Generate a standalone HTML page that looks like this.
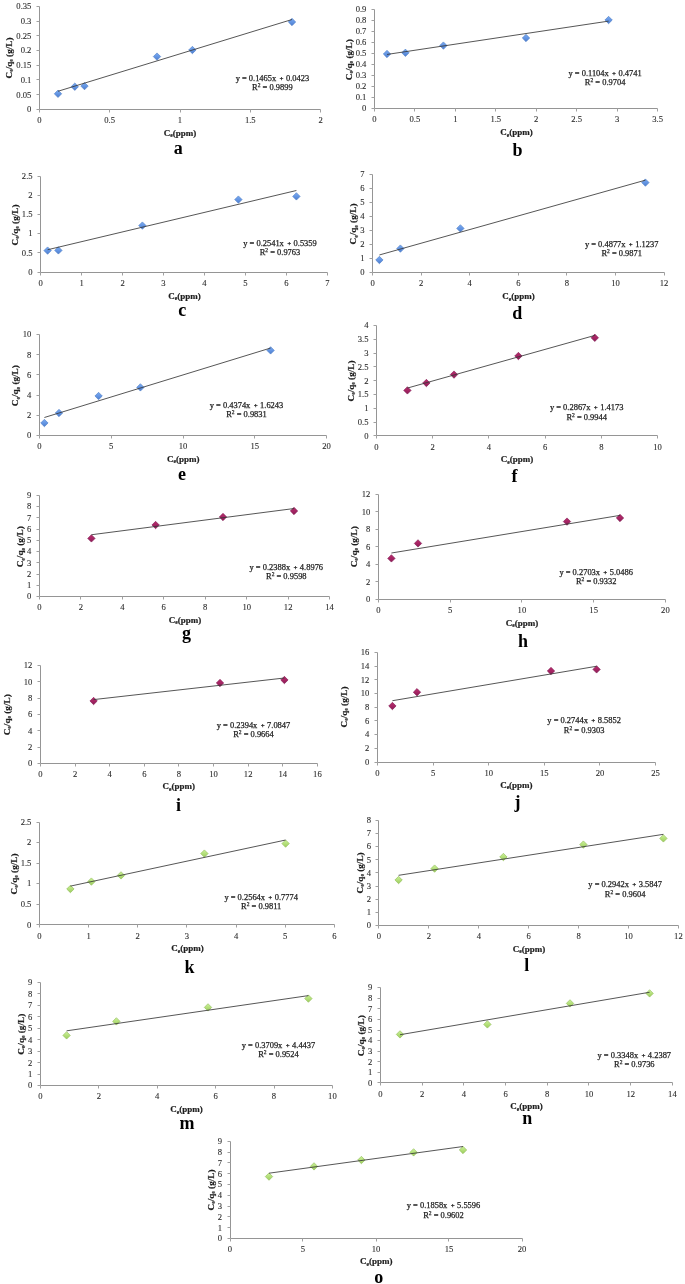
<!DOCTYPE html>
<html><head><meta charset="utf-8"><title>Figure</title>
<style>html,body{margin:0;padding:0;background:#fff;width:685px;height:1284px;overflow:hidden}svg{display:block;filter:blur(0.5px)}</style>
</head><body>
<svg width="685" height="1284" viewBox="0 0 685 1284">
<defs>
<linearGradient id="gb" x1="0" y1="0" x2="0" y2="1"><stop offset="0" stop-color="#7aaaf0"/><stop offset="0.5" stop-color="#6496e4"/><stop offset="1" stop-color="#4c7ccc"/></linearGradient>
<linearGradient id="gm" x1="0" y1="0" x2="0" y2="1"><stop offset="0" stop-color="#b82c6a"/><stop offset="0.5" stop-color="#a62464"/><stop offset="1" stop-color="#8c1c54"/></linearGradient>
<linearGradient id="gg" x1="0" y1="0" x2="0" y2="1"><stop offset="0" stop-color="#cdf29a"/><stop offset="0.5" stop-color="#b4e07a"/><stop offset="1" stop-color="#9ccc5e"/></linearGradient>
</defs>
<style>
.ax{stroke:#959595;stroke-width:1;fill:none}
.tkl{stroke:#a0a0a0;stroke-width:1;fill:none}
.tr{stroke:#383838;stroke-width:0.85;fill:none}
.tk{font-family:"Liberation Serif",serif;font-size:8.6px;fill:#2c2c2c;stroke:#2c2c2c;stroke-width:0.1px}
.eq{font-family:"Liberation Serif",serif;font-size:8.45px;fill:#1e1e1e;stroke:#1e1e1e;stroke-width:0.25px}
.ti{font-family:"Liberation Serif",serif;font-size:9.0px;font-weight:bold;fill:#1e1e1e;stroke:#1e1e1e;stroke-width:0.2px}
.lt{font-family:"Liberation Serif",serif;font-size:18px;font-weight:bold;fill:#000}
</style>
<rect width="685" height="1284" fill="#fff"/>
<g id="ca"><path d="M39.5 6.5V109.5H320.5" class="ax"/><path d="M36.5 109.5H39.5M36.5 94.5H39.5M36.5 79.5H39.5M36.5 65.5H39.5M36.5 50.5H39.5M36.5 35.5H39.5M36.5 21.5H39.5M36.5 6.5H39.5M39.5 109.5V112.5M109.5 109.5V112.5M180.5 109.5V112.5M250.5 109.5V112.5M320.5 109.5V112.5" class="tkl"/><text x="31.4" y="112.24" class="tk" text-anchor="end">0</text><text x="31.4" y="97.52" class="tk" text-anchor="end">0.05</text><text x="31.4" y="82.81" class="tk" text-anchor="end">0.1</text><text x="31.4" y="68.1" class="tk" text-anchor="end">0.15</text><text x="31.4" y="53.38" class="tk" text-anchor="end">0.2</text><text x="31.4" y="38.67" class="tk" text-anchor="end">0.25</text><text x="31.4" y="23.95" class="tk" text-anchor="end">0.3</text><text x="31.4" y="9.24" class="tk" text-anchor="end">0.35</text><text x="39.4" y="123.24" class="tk" text-anchor="middle">0</text><text x="109.7" y="123.24" class="tk" text-anchor="middle">0.5</text><text x="180" y="123.24" class="tk" text-anchor="middle">1</text><text x="250.3" y="123.24" class="tk" text-anchor="middle">1.5</text><text x="320.6" y="123.24" class="tk" text-anchor="middle">2</text><path d="M58 90.1L61.7 93.8L58 97.5L54.3 93.8Z" fill="url(#gb)" stroke="#4a7ac4" stroke-width="0.6"/><path d="M74.8 83L78.5 86.7L74.8 90.4L71.1 86.7Z" fill="url(#gb)" stroke="#4a7ac4" stroke-width="0.6"/><path d="M84.5 82.4L88.2 86.1L84.5 89.8L80.8 86.1Z" fill="url(#gb)" stroke="#4a7ac4" stroke-width="0.6"/><path d="M157 52.9L160.7 56.6L157 60.3L153.3 56.6Z" fill="url(#gb)" stroke="#4a7ac4" stroke-width="0.6"/><path d="M192.4 46.3L196.1 50L192.4 53.7L188.7 50Z" fill="url(#gb)" stroke="#4a7ac4" stroke-width="0.6"/><path d="M292 18.3L295.7 22L292 25.7L288.3 22Z" fill="url(#gb)" stroke="#4a7ac4" stroke-width="0.6"/><path d="M58 91.25L292 19.5" class="tr"/><text x="272.4" y="80.79" class="eq" text-anchor="middle" xml:space="preserve">y = 0.1465x <tspan font-size="7" font-weight="bold" dx="1.2">+</tspan><tspan dx="0.3"> 0.0423</tspan></text><text x="272.4" y="89.79" class="eq" text-anchor="middle">R<tspan dy="-3" font-size="5.5">2</tspan><tspan dy="3"> = 0.9899</tspan></text><text transform="translate(11.7 58) rotate(-90)" class="ti" text-anchor="middle" textLength="41" lengthAdjust="spacingAndGlyphs">C<tspan font-size="5.5" dy="1.5">e</tspan><tspan dy="-1.5">/q</tspan><tspan font-size="5.5" dy="1.5">e</tspan><tspan dy="-1.5"> (g/L)</tspan></text><text x="180" y="135.85" class="ti" text-anchor="middle">C<tspan font-size="5.5" dy="1.5">e</tspan><tspan dy="-1.5">(ppm)</tspan></text><text x="178.2" y="154" class="lt" text-anchor="middle">a</text></g>
<g id="cb"><path d="M374.5 9.5V108.5H657.5" class="ax"/><path d="M371.5 108.5H374.5M371.5 97.5H374.5M371.5 86.5H374.5M371.5 75.5H374.5M371.5 64.5H374.5M371.5 53.5H374.5M371.5 42.5H374.5M371.5 31.5H374.5M371.5 20.5H374.5M371.5 9.5H374.5M374.5 108.5V111.5M414.5 108.5V111.5M455.5 108.5V111.5M495.5 108.5V111.5M536.5 108.5V111.5M576.5 108.5V111.5M617.5 108.5V111.5M657.5 108.5V111.5" class="tkl"/><text x="366.4" y="111.44" class="tk" text-anchor="end">0</text><text x="366.4" y="100.42" class="tk" text-anchor="end">0.1</text><text x="366.4" y="89.39" class="tk" text-anchor="end">0.2</text><text x="366.4" y="78.37" class="tk" text-anchor="end">0.3</text><text x="366.4" y="67.35" class="tk" text-anchor="end">0.4</text><text x="366.4" y="56.33" class="tk" text-anchor="end">0.5</text><text x="366.4" y="45.3" class="tk" text-anchor="end">0.6</text><text x="366.4" y="34.28" class="tk" text-anchor="end">0.7</text><text x="366.4" y="23.26" class="tk" text-anchor="end">0.8</text><text x="366.4" y="12.24" class="tk" text-anchor="end">0.9</text><text x="374.4" y="122.44" class="tk" text-anchor="middle">0</text><text x="414.86" y="122.44" class="tk" text-anchor="middle">0.5</text><text x="455.31" y="122.44" class="tk" text-anchor="middle">1</text><text x="495.77" y="122.44" class="tk" text-anchor="middle">1.5</text><text x="536.23" y="122.44" class="tk" text-anchor="middle">2</text><text x="576.69" y="122.44" class="tk" text-anchor="middle">2.5</text><text x="617.14" y="122.44" class="tk" text-anchor="middle">3</text><text x="657.6" y="122.44" class="tk" text-anchor="middle">3.5</text><path d="M387 50.3L390.7 54L387 57.7L383.3 54Z" fill="url(#gb)" stroke="#4a7ac4" stroke-width="0.6"/><path d="M405.4 49.1L409.1 52.8L405.4 56.5L401.7 52.8Z" fill="url(#gb)" stroke="#4a7ac4" stroke-width="0.6"/><path d="M443.4 41.9L447.1 45.6L443.4 49.3L439.7 45.6Z" fill="url(#gb)" stroke="#4a7ac4" stroke-width="0.6"/><path d="M526 34.3L529.7 38L526 41.7L522.3 38Z" fill="url(#gb)" stroke="#4a7ac4" stroke-width="0.6"/><path d="M608.6 16.3L612.3 20L608.6 23.7L604.9 20Z" fill="url(#gb)" stroke="#4a7ac4" stroke-width="0.6"/><path d="M387 54.45L608.6 21.12" class="tr"/><text x="605.1" y="75.99" class="eq" text-anchor="middle" xml:space="preserve">y = 0.1104x <tspan font-size="7" font-weight="bold" dx="1.2">+</tspan><tspan dx="0.3"> 0.4741</tspan></text><text x="605.1" y="84.79" class="eq" text-anchor="middle">R<tspan dy="-3" font-size="5.5">2</tspan><tspan dy="3"> = 0.9704</tspan></text><text transform="translate(351.7 59.7) rotate(-90)" class="ti" text-anchor="middle" textLength="41" lengthAdjust="spacingAndGlyphs">C<tspan font-size="5.5" dy="1.5">e</tspan><tspan dy="-1.5">/q</tspan><tspan font-size="5.5" dy="1.5">e</tspan><tspan dy="-1.5"> (g/L)</tspan></text><text x="516.6" y="135.25" class="ti" text-anchor="middle">C<tspan font-size="5.5" dy="1.5">e</tspan><tspan dy="-1.5">(ppm)</tspan></text><text x="517.4" y="156" class="lt" text-anchor="middle">b</text></g>
<g id="cc"><path d="M40.5 176.5V272.5H327.5" class="ax"/><path d="M37.5 272.5H40.5M37.5 252.5H40.5M37.5 233.5H40.5M37.5 214.5H40.5M37.5 195.5H40.5M37.5 176.5H40.5M40.5 272.5V275.5M81.5 272.5V275.5M122.5 272.5V275.5M163.5 272.5V275.5M204.5 272.5V275.5M245.5 272.5V275.5M286.5 272.5V275.5M327.5 272.5V275.5" class="tkl"/><text x="32.6" y="274.84" class="tk" text-anchor="end">0</text><text x="32.6" y="255.64" class="tk" text-anchor="end">0.5</text><text x="32.6" y="236.44" class="tk" text-anchor="end">1</text><text x="32.6" y="217.24" class="tk" text-anchor="end">1.5</text><text x="32.6" y="198.04" class="tk" text-anchor="end">2</text><text x="32.6" y="178.84" class="tk" text-anchor="end">2.5</text><text x="40.6" y="285.84" class="tk" text-anchor="middle">0</text><text x="81.57" y="285.84" class="tk" text-anchor="middle">1</text><text x="122.54" y="285.84" class="tk" text-anchor="middle">2</text><text x="163.51" y="285.84" class="tk" text-anchor="middle">3</text><text x="204.49" y="285.84" class="tk" text-anchor="middle">4</text><text x="245.46" y="285.84" class="tk" text-anchor="middle">5</text><text x="286.43" y="285.84" class="tk" text-anchor="middle">6</text><text x="327.4" y="285.84" class="tk" text-anchor="middle">7</text><path d="M47.6 246.9L51.3 250.6L47.6 254.3L43.9 250.6Z" fill="url(#gb)" stroke="#4a7ac4" stroke-width="0.6"/><path d="M58.4 246.7L62.1 250.4L58.4 254.1L54.7 250.4Z" fill="url(#gb)" stroke="#4a7ac4" stroke-width="0.6"/><path d="M142.4 221.9L146.1 225.6L142.4 229.3L138.7 225.6Z" fill="url(#gb)" stroke="#4a7ac4" stroke-width="0.6"/><path d="M238.4 195.9L242.1 199.6L238.4 203.3L234.7 199.6Z" fill="url(#gb)" stroke="#4a7ac4" stroke-width="0.6"/><path d="M296.4 192.7L300.1 196.4L296.4 200.1L292.7 196.4Z" fill="url(#gb)" stroke="#4a7ac4" stroke-width="0.6"/><path d="M47.6 249.75L296.4 190.5" class="tr"/><text x="280" y="245.79" class="eq" text-anchor="middle" xml:space="preserve">y = 0.2541x <tspan font-size="7" font-weight="bold" dx="1.2">+</tspan><tspan dx="0.3"> 0.5359</tspan></text><text x="280" y="255.19" class="eq" text-anchor="middle">R<tspan dy="-3" font-size="5.5">2</tspan><tspan dy="3"> = 0.9763</tspan></text><text transform="translate(17.7 225) rotate(-90)" class="ti" text-anchor="middle" textLength="41" lengthAdjust="spacingAndGlyphs">C<tspan font-size="5.5" dy="1.5">e</tspan><tspan dy="-1.5">/q</tspan><tspan font-size="5.5" dy="1.5">e</tspan><tspan dy="-1.5"> (g/L)</tspan></text><text x="184.5" y="298.55" class="ti" text-anchor="middle">C<tspan font-size="5.5" dy="1.5">e</tspan><tspan dy="-1.5">(ppm)</tspan></text><text x="182.3" y="316.4" class="lt" text-anchor="middle">c</text></g>
<g id="cd"><path d="M372.5 174.5V272.5H664.5" class="ax"/><path d="M369.5 272.5H372.5M369.5 258.5H372.5M369.5 244.5H372.5M369.5 230.5H372.5M369.5 216.5H372.5M369.5 202.5H372.5M369.5 188.5H372.5M369.5 174.5H372.5M372.5 272.5V275.5M421.5 272.5V275.5M469.5 272.5V275.5M518.5 272.5V275.5M566.5 272.5V275.5M615.5 272.5V275.5M664.5 272.5V275.5" class="tkl"/><text x="364.6" y="275.44" class="tk" text-anchor="end">0</text><text x="364.6" y="261.44" class="tk" text-anchor="end">1</text><text x="364.6" y="247.44" class="tk" text-anchor="end">2</text><text x="364.6" y="233.44" class="tk" text-anchor="end">3</text><text x="364.6" y="219.44" class="tk" text-anchor="end">4</text><text x="364.6" y="205.44" class="tk" text-anchor="end">5</text><text x="364.6" y="191.44" class="tk" text-anchor="end">6</text><text x="364.6" y="177.44" class="tk" text-anchor="end">7</text><text x="372.6" y="286.44" class="tk" text-anchor="middle">0</text><text x="421.17" y="286.44" class="tk" text-anchor="middle">2</text><text x="469.73" y="286.44" class="tk" text-anchor="middle">4</text><text x="518.3" y="286.44" class="tk" text-anchor="middle">6</text><text x="566.87" y="286.44" class="tk" text-anchor="middle">8</text><text x="615.43" y="286.44" class="tk" text-anchor="middle">10</text><text x="664" y="286.44" class="tk" text-anchor="middle">12</text><path d="M379.4 256.3L383.1 260L379.4 263.7L375.7 260Z" fill="url(#gb)" stroke="#4a7ac4" stroke-width="0.6"/><path d="M400.4 244.9L404.1 248.6L400.4 252.3L396.7 248.6Z" fill="url(#gb)" stroke="#4a7ac4" stroke-width="0.6"/><path d="M460.4 224.7L464.1 228.4L460.4 232.1L456.7 228.4Z" fill="url(#gb)" stroke="#4a7ac4" stroke-width="0.6"/><path d="M645.4 178.9L649.1 182.6L645.4 186.3L641.7 182.6Z" fill="url(#gb)" stroke="#4a7ac4" stroke-width="0.6"/><path d="M379.4 254.96L645.4 180.16" class="tr"/><text x="621.7" y="246.79" class="eq" text-anchor="middle" xml:space="preserve">y = 0.4877x <tspan font-size="7" font-weight="bold" dx="1.2">+</tspan><tspan dx="0.3"> 1.1237</tspan></text><text x="621.7" y="255.79" class="eq" text-anchor="middle">R<tspan dy="-3" font-size="5.5">2</tspan><tspan dy="3"> = 0.9871</tspan></text><text transform="translate(356.4 224) rotate(-90)" class="ti" text-anchor="middle" textLength="41" lengthAdjust="spacingAndGlyphs">C<tspan font-size="5.5" dy="1.5">e</tspan><tspan dy="-1.5">/q</tspan><tspan font-size="5.5" dy="1.5">e</tspan><tspan dy="-1.5"> (g/L)</tspan></text><text x="518.5" y="299.25" class="ti" text-anchor="middle">C<tspan font-size="5.5" dy="1.5">e</tspan><tspan dy="-1.5">(ppm)</tspan></text><text x="517.2" y="318.9" class="lt" text-anchor="middle">d</text></g>
<g id="ce"><path d="M39.5 334.5V435.5H326.5" class="ax"/><path d="M36.5 435.5H39.5M36.5 415.5H39.5M36.5 395.5H39.5M36.5 374.5H39.5M36.5 354.5H39.5M36.5 334.5H39.5M39.5 435.5V438.5M111.5 435.5V438.5M183.5 435.5V438.5M254.5 435.5V438.5M326.5 435.5V438.5" class="tkl"/><text x="31.4" y="438.24" class="tk" text-anchor="end">0</text><text x="31.4" y="418.08" class="tk" text-anchor="end">2</text><text x="31.4" y="397.92" class="tk" text-anchor="end">4</text><text x="31.4" y="377.76" class="tk" text-anchor="end">6</text><text x="31.4" y="357.6" class="tk" text-anchor="end">8</text><text x="31.4" y="337.44" class="tk" text-anchor="end">10</text><text x="39.4" y="449.24" class="tk" text-anchor="middle">0</text><text x="111.2" y="449.24" class="tk" text-anchor="middle">5</text><text x="183" y="449.24" class="tk" text-anchor="middle">10</text><text x="254.8" y="449.24" class="tk" text-anchor="middle">15</text><text x="326.6" y="449.24" class="tk" text-anchor="middle">20</text><path d="M44.4 419.3L48.1 423L44.4 426.7L40.7 423Z" fill="url(#gb)" stroke="#4a7ac4" stroke-width="0.6"/><path d="M59 409.3L62.7 413L59 416.7L55.3 413Z" fill="url(#gb)" stroke="#4a7ac4" stroke-width="0.6"/><path d="M98.6 392.3L102.3 396L98.6 399.7L94.9 396Z" fill="url(#gb)" stroke="#4a7ac4" stroke-width="0.6"/><path d="M140.4 383.7L144.1 387.4L140.4 391.1L136.7 387.4Z" fill="url(#gb)" stroke="#4a7ac4" stroke-width="0.6"/><path d="M270.6 346.7L274.3 350.4L270.6 354.1L266.9 350.4Z" fill="url(#gb)" stroke="#4a7ac4" stroke-width="0.6"/><path d="M44.4 417.49L270.6 348.04" class="tr"/><text x="246.5" y="408.39" class="eq" text-anchor="middle" xml:space="preserve">y = 0.4374x <tspan font-size="7" font-weight="bold" dx="1.2">+</tspan><tspan dx="0.3"> 1.6243</tspan></text><text x="246.5" y="417.19" class="eq" text-anchor="middle">R<tspan dy="-3" font-size="5.5">2</tspan><tspan dy="3"> = 0.9831</tspan></text><text transform="translate(18.1 385.7) rotate(-90)" class="ti" text-anchor="middle" textLength="41" lengthAdjust="spacingAndGlyphs">C<tspan font-size="5.5" dy="1.5">e</tspan><tspan dy="-1.5">/q</tspan><tspan font-size="5.5" dy="1.5">e</tspan><tspan dy="-1.5"> (g/L)</tspan></text><text x="183.2" y="461.85" class="ti" text-anchor="middle">C<tspan font-size="5.5" dy="1.5">e</tspan><tspan dy="-1.5">(ppm)</tspan></text><text x="181.9" y="480.4" class="lt" text-anchor="middle">e</text></g>
<g id="cf"><path d="M376.5 325.5V435.5H657.5" class="ax"/><path d="M373.5 435.5H376.5M373.5 422.5H376.5M373.5 408.5H376.5M373.5 394.5H376.5M373.5 380.5H376.5M373.5 366.5H376.5M373.5 353.5H376.5M373.5 339.5H376.5M373.5 325.5H376.5M376.5 435.5V438.5M432.5 435.5V438.5M488.5 435.5V438.5M545.5 435.5V438.5M601.5 435.5V438.5M657.5 435.5V438.5" class="tkl"/><text x="368.5" y="438.64" class="tk" text-anchor="end">0</text><text x="368.5" y="424.86" class="tk" text-anchor="end">0.5</text><text x="368.5" y="411.09" class="tk" text-anchor="end">1</text><text x="368.5" y="397.31" class="tk" text-anchor="end">1.5</text><text x="368.5" y="383.54" class="tk" text-anchor="end">2</text><text x="368.5" y="369.76" class="tk" text-anchor="end">2.5</text><text x="368.5" y="355.99" class="tk" text-anchor="end">3</text><text x="368.5" y="342.21" class="tk" text-anchor="end">3.5</text><text x="368.5" y="328.44" class="tk" text-anchor="end">4</text><text x="376.5" y="449.64" class="tk" text-anchor="middle">0</text><text x="432.72" y="449.64" class="tk" text-anchor="middle">2</text><text x="488.94" y="449.64" class="tk" text-anchor="middle">4</text><text x="545.16" y="449.64" class="tk" text-anchor="middle">6</text><text x="601.38" y="449.64" class="tk" text-anchor="middle">8</text><text x="657.6" y="449.64" class="tk" text-anchor="middle">10</text><path d="M407.4 386.7L411.1 390.4L407.4 394.1L403.7 390.4Z" fill="url(#gm)" stroke="#7e1550" stroke-width="0.6"/><path d="M426.4 379.3L430.1 383L426.4 386.7L422.7 383Z" fill="url(#gm)" stroke="#7e1550" stroke-width="0.6"/><path d="M454 370.9L457.7 374.6L454 378.3L450.3 374.6Z" fill="url(#gm)" stroke="#7e1550" stroke-width="0.6"/><path d="M518.4 352.3L522.1 356L518.4 359.7L514.7 356Z" fill="url(#gm)" stroke="#7e1550" stroke-width="0.6"/><path d="M594.8 334.1L598.5 337.8L594.8 341.5L591.1 337.8Z" fill="url(#gm)" stroke="#7e1550" stroke-width="0.6"/><path d="M407.4 388.07L594.8 335.41" class="tr"/><text x="586.7" y="410.39" class="eq" text-anchor="middle" xml:space="preserve">y = 0.2867x <tspan font-size="7" font-weight="bold" dx="1.2">+</tspan><tspan dx="0.3"> 1.4173</tspan></text><text x="586.7" y="420.19" class="eq" text-anchor="middle">R<tspan dy="-3" font-size="5.5">2</tspan><tspan dy="3"> = 0.9944</tspan></text><text transform="translate(353.7 381) rotate(-90)" class="ti" text-anchor="middle" textLength="41" lengthAdjust="spacingAndGlyphs">C<tspan font-size="5.5" dy="1.5">e</tspan><tspan dy="-1.5">/q</tspan><tspan font-size="5.5" dy="1.5">e</tspan><tspan dy="-1.5"> (g/L)</tspan></text><text x="517" y="462.45" class="ti" text-anchor="middle">C<tspan font-size="5.5" dy="1.5">e</tspan><tspan dy="-1.5">(ppm)</tspan></text><text x="514.5" y="482" class="lt" text-anchor="middle">f</text></g>
<g id="cg"><path d="M39.5 495.5V596.5H329.5" class="ax"/><path d="M36.5 596.5H39.5M36.5 585.5H39.5M36.5 574.5H39.5M36.5 562.5H39.5M36.5 551.5H39.5M36.5 540.5H39.5M36.5 529.5H39.5M36.5 517.5H39.5M36.5 506.5H39.5M36.5 495.5H39.5M39.5 596.5V599.5M80.5 596.5V599.5M122.5 596.5V599.5M163.5 596.5V599.5M205.5 596.5V599.5M246.5 596.5V599.5M288.5 596.5V599.5M329.5 596.5V599.5" class="tkl"/><text x="31.4" y="599.34" class="tk" text-anchor="end">0</text><text x="31.4" y="588.1" class="tk" text-anchor="end">1</text><text x="31.4" y="576.87" class="tk" text-anchor="end">2</text><text x="31.4" y="565.64" class="tk" text-anchor="end">3</text><text x="31.4" y="554.4" class="tk" text-anchor="end">4</text><text x="31.4" y="543.17" class="tk" text-anchor="end">5</text><text x="31.4" y="531.94" class="tk" text-anchor="end">6</text><text x="31.4" y="520.7" class="tk" text-anchor="end">7</text><text x="31.4" y="509.47" class="tk" text-anchor="end">8</text><text x="31.4" y="498.24" class="tk" text-anchor="end">9</text><text x="39.4" y="610.34" class="tk" text-anchor="middle">0</text><text x="80.86" y="610.34" class="tk" text-anchor="middle">2</text><text x="122.31" y="610.34" class="tk" text-anchor="middle">4</text><text x="163.77" y="610.34" class="tk" text-anchor="middle">6</text><text x="205.23" y="610.34" class="tk" text-anchor="middle">8</text><text x="246.69" y="610.34" class="tk" text-anchor="middle">10</text><text x="288.14" y="610.34" class="tk" text-anchor="middle">12</text><text x="329.6" y="610.34" class="tk" text-anchor="middle">14</text><path d="M91.4 534.7L95.1 538.4L91.4 542.1L87.7 538.4Z" fill="url(#gm)" stroke="#7e1550" stroke-width="0.6"/><path d="M155.6 521.3L159.3 525L155.6 528.7L151.9 525Z" fill="url(#gm)" stroke="#7e1550" stroke-width="0.6"/><path d="M223 513.3L226.7 517L223 520.7L219.3 517Z" fill="url(#gm)" stroke="#7e1550" stroke-width="0.6"/><path d="M294 507.3L297.7 511L294 514.7L290.3 511Z" fill="url(#gm)" stroke="#7e1550" stroke-width="0.6"/><path d="M91.4 534.75L294 508.54" class="tr"/><text x="286.3" y="570.19" class="eq" text-anchor="middle" xml:space="preserve">y = 0.2388x <tspan font-size="7" font-weight="bold" dx="1.2">+</tspan><tspan dx="0.3"> 4.8976</tspan></text><text x="286.3" y="579.19" class="eq" text-anchor="middle">R<tspan dy="-3" font-size="5.5">2</tspan><tspan dy="3"> = 0.9598</tspan></text><text transform="translate(23.2 546.8) rotate(-90)" class="ti" text-anchor="middle" textLength="41" lengthAdjust="spacingAndGlyphs">C<tspan font-size="5.5" dy="1.5">e</tspan><tspan dy="-1.5">/q</tspan><tspan font-size="5.5" dy="1.5">e</tspan><tspan dy="-1.5"> (g/L)</tspan></text><text x="185" y="622.95" class="ti" text-anchor="middle">C<tspan font-size="5.5" dy="1.5">e</tspan><tspan dy="-1.5">(ppm)</tspan></text><text x="186.5" y="638.9" class="lt" text-anchor="middle">g</text></g>
<g id="ch"><path d="M378.5 494.5V599.5H665.5" class="ax"/><path d="M375.5 599.5H378.5M375.5 581.5H378.5M375.5 564.5H378.5M375.5 546.5H378.5M375.5 529.5H378.5M375.5 511.5H378.5M375.5 494.5H378.5M378.5 599.5V602.5M450.5 599.5V602.5M521.5 599.5V602.5M593.5 599.5V602.5M665.5 599.5V602.5" class="tkl"/><text x="370.4" y="602.14" class="tk" text-anchor="end">0</text><text x="370.4" y="584.65" class="tk" text-anchor="end">2</text><text x="370.4" y="567.17" class="tk" text-anchor="end">4</text><text x="370.4" y="549.69" class="tk" text-anchor="end">6</text><text x="370.4" y="532.2" class="tk" text-anchor="end">8</text><text x="370.4" y="514.72" class="tk" text-anchor="end">10</text><text x="370.4" y="497.24" class="tk" text-anchor="end">12</text><text x="378.4" y="613.14" class="tk" text-anchor="middle">0</text><text x="450.15" y="613.14" class="tk" text-anchor="middle">5</text><text x="521.9" y="613.14" class="tk" text-anchor="middle">10</text><text x="593.65" y="613.14" class="tk" text-anchor="middle">15</text><text x="665.4" y="613.14" class="tk" text-anchor="middle">20</text><path d="M391.4 554.7L395.1 558.4L391.4 562.1L387.7 558.4Z" fill="url(#gm)" stroke="#7e1550" stroke-width="0.6"/><path d="M418 539.7L421.7 543.4L418 547.1L414.3 543.4Z" fill="url(#gm)" stroke="#7e1550" stroke-width="0.6"/><path d="M567 517.9L570.7 521.6L567 525.3L563.3 521.6Z" fill="url(#gm)" stroke="#7e1550" stroke-width="0.6"/><path d="M620 514.3L623.7 518L620 521.7L616.3 518Z" fill="url(#gm)" stroke="#7e1550" stroke-width="0.6"/><path d="M391.4 553.03L620 515.38" class="tr"/><text x="596.2" y="574.79" class="eq" text-anchor="middle" xml:space="preserve">y = 0.2703x <tspan font-size="7" font-weight="bold" dx="1.2">+</tspan><tspan dx="0.3"> 5.0486</tspan></text><text x="596.2" y="583.79" class="eq" text-anchor="middle">R<tspan dy="-3" font-size="5.5">2</tspan><tspan dy="3"> = 0.9332</tspan></text><text transform="translate(356.8 546.8) rotate(-90)" class="ti" text-anchor="middle" textLength="41" lengthAdjust="spacingAndGlyphs">C<tspan font-size="5.5" dy="1.5">e</tspan><tspan dy="-1.5">/q</tspan><tspan font-size="5.5" dy="1.5">e</tspan><tspan dy="-1.5"> (g/L)</tspan></text><text x="522" y="625.55" class="ti" text-anchor="middle">C<tspan font-size="5.5" dy="1.5">e</tspan><tspan dy="-1.5">(ppm)</tspan></text><text x="523.1" y="647" class="lt" text-anchor="middle">h</text></g>
<g id="ci"><path d="M40.5 665.5V763.5H317.5" class="ax"/><path d="M37.5 763.5H40.5M37.5 747.5H40.5M37.5 730.5H40.5M37.5 714.5H40.5M37.5 698.5H40.5M37.5 681.5H40.5M37.5 665.5H40.5M40.5 763.5V766.5M75.5 763.5V766.5M109.5 763.5V766.5M144.5 763.5V766.5M178.5 763.5V766.5M213.5 763.5V766.5M248.5 763.5V766.5M282.5 763.5V766.5M317.5 763.5V766.5" class="tkl"/><text x="32.4" y="766.44" class="tk" text-anchor="end">0</text><text x="32.4" y="750.07" class="tk" text-anchor="end">2</text><text x="32.4" y="733.7" class="tk" text-anchor="end">4</text><text x="32.4" y="717.34" class="tk" text-anchor="end">6</text><text x="32.4" y="700.97" class="tk" text-anchor="end">8</text><text x="32.4" y="684.6" class="tk" text-anchor="end">10</text><text x="32.4" y="668.24" class="tk" text-anchor="end">12</text><text x="40.4" y="777.44" class="tk" text-anchor="middle">0</text><text x="75.03" y="777.44" class="tk" text-anchor="middle">2</text><text x="109.65" y="777.44" class="tk" text-anchor="middle">4</text><text x="144.28" y="777.44" class="tk" text-anchor="middle">6</text><text x="178.9" y="777.44" class="tk" text-anchor="middle">8</text><text x="213.53" y="777.44" class="tk" text-anchor="middle">10</text><text x="248.15" y="777.44" class="tk" text-anchor="middle">12</text><text x="282.77" y="777.44" class="tk" text-anchor="middle">14</text><text x="317.4" y="777.44" class="tk" text-anchor="middle">16</text><path d="M93.6 697.3L97.3 701L93.6 704.7L89.9 701Z" fill="url(#gm)" stroke="#7e1550" stroke-width="0.6"/><path d="M220 679.3L223.7 683L220 686.7L216.3 683Z" fill="url(#gm)" stroke="#7e1550" stroke-width="0.6"/><path d="M284.4 676.3L288.1 680L284.4 683.7L280.7 680Z" fill="url(#gm)" stroke="#7e1550" stroke-width="0.6"/><path d="M93.6 699.6L284.4 678.01" class="tr"/><text x="253.5" y="728.19" class="eq" text-anchor="middle" xml:space="preserve">y = 0.2394x <tspan font-size="7" font-weight="bold" dx="1.2">+</tspan><tspan dx="0.3"> 7.0847</tspan></text><text x="253.5" y="737.19" class="eq" text-anchor="middle">R<tspan dy="-3" font-size="5.5">2</tspan><tspan dy="3"> = 0.9664</tspan></text><text transform="translate(9.5 714.8) rotate(-90)" class="ti" text-anchor="middle" textLength="41" lengthAdjust="spacingAndGlyphs">C<tspan font-size="5.5" dy="1.5">e</tspan><tspan dy="-1.5">/q</tspan><tspan font-size="5.5" dy="1.5">e</tspan><tspan dy="-1.5"> (g/L)</tspan></text><text x="178.8" y="789.35" class="ti" text-anchor="middle">C<tspan font-size="5.5" dy="1.5">e</tspan><tspan dy="-1.5">(ppm)</tspan></text><text x="178.4" y="811" class="lt" text-anchor="middle">i</text></g>
<g id="cj"><path d="M377.5 652.5V762.5H655.5" class="ax"/><path d="M374.5 762.5H377.5M374.5 748.5H377.5M374.5 734.5H377.5M374.5 720.5H377.5M374.5 707.5H377.5M374.5 693.5H377.5M374.5 679.5H377.5M374.5 666.5H377.5M374.5 652.5H377.5M377.5 762.5V765.5M433.5 762.5V765.5M488.5 762.5V765.5M544.5 762.5V765.5M599.5 762.5V765.5M655.5 762.5V765.5" class="tkl"/><text x="369.4" y="764.84" class="tk" text-anchor="end">0</text><text x="369.4" y="751.15" class="tk" text-anchor="end">2</text><text x="369.4" y="737.46" class="tk" text-anchor="end">4</text><text x="369.4" y="723.78" class="tk" text-anchor="end">6</text><text x="369.4" y="710.09" class="tk" text-anchor="end">8</text><text x="369.4" y="696.4" class="tk" text-anchor="end">10</text><text x="369.4" y="682.71" class="tk" text-anchor="end">12</text><text x="369.4" y="669.03" class="tk" text-anchor="end">14</text><text x="369.4" y="655.34" class="tk" text-anchor="end">16</text><text x="377.4" y="775.84" class="tk" text-anchor="middle">0</text><text x="433.04" y="775.84" class="tk" text-anchor="middle">5</text><text x="488.68" y="775.84" class="tk" text-anchor="middle">10</text><text x="544.32" y="775.84" class="tk" text-anchor="middle">15</text><text x="599.96" y="775.84" class="tk" text-anchor="middle">20</text><text x="655.6" y="775.84" class="tk" text-anchor="middle">25</text><path d="M392.4 702.3L396.1 706L392.4 709.7L388.7 706Z" fill="url(#gm)" stroke="#7e1550" stroke-width="0.6"/><path d="M417 688.5L420.7 692.2L417 695.9L413.3 692.2Z" fill="url(#gm)" stroke="#7e1550" stroke-width="0.6"/><path d="M551 667.3L554.7 671L551 674.7L547.3 671Z" fill="url(#gm)" stroke="#7e1550" stroke-width="0.6"/><path d="M596.6 665.7L600.3 669.4L596.6 673.1L592.9 669.4Z" fill="url(#gm)" stroke="#7e1550" stroke-width="0.6"/><path d="M392.4 700.71L596.6 666.25" class="tr"/><text x="584.1" y="723.39" class="eq" text-anchor="middle" xml:space="preserve">y = 0.2744x <tspan font-size="7" font-weight="bold" dx="1.2">+</tspan><tspan dx="0.3"> 8.5852</tspan></text><text x="584.1" y="732.79" class="eq" text-anchor="middle">R<tspan dy="-3" font-size="5.5">2</tspan><tspan dy="3"> = 0.9303</tspan></text><text transform="translate(346.8 707) rotate(-90)" class="ti" text-anchor="middle" textLength="41" lengthAdjust="spacingAndGlyphs">C<tspan font-size="5.5" dy="1.5">e</tspan><tspan dy="-1.5">/q</tspan><tspan font-size="5.5" dy="1.5">e</tspan><tspan dy="-1.5"> (g/L)</tspan></text><text x="516.4" y="787.95" class="ti" text-anchor="middle">C<tspan font-size="5.5" dy="1.5">e</tspan><tspan dy="-1.5">(ppm)</tspan></text><text x="517.6" y="808.3" class="lt" text-anchor="middle">j</text></g>
<g id="ck"><path d="M39.5 822.5V924.5H334.5" class="ax"/><path d="M36.5 924.5H39.5M36.5 904.5H39.5M36.5 883.5H39.5M36.5 863.5H39.5M36.5 842.5H39.5M36.5 822.5H39.5M39.5 924.5V927.5M88.5 924.5V927.5M137.5 924.5V927.5M186.5 924.5V927.5M236.5 924.5V927.5M285.5 924.5V927.5M334.5 924.5V927.5" class="tkl"/><text x="31.4" y="927.54" class="tk" text-anchor="end">0</text><text x="31.4" y="907" class="tk" text-anchor="end">0.5</text><text x="31.4" y="886.46" class="tk" text-anchor="end">1</text><text x="31.4" y="865.92" class="tk" text-anchor="end">1.5</text><text x="31.4" y="845.38" class="tk" text-anchor="end">2</text><text x="31.4" y="824.84" class="tk" text-anchor="end">2.5</text><text x="39.4" y="938.54" class="tk" text-anchor="middle">0</text><text x="88.57" y="938.54" class="tk" text-anchor="middle">1</text><text x="137.73" y="938.54" class="tk" text-anchor="middle">2</text><text x="186.9" y="938.54" class="tk" text-anchor="middle">3</text><text x="236.07" y="938.54" class="tk" text-anchor="middle">4</text><text x="285.23" y="938.54" class="tk" text-anchor="middle">5</text><text x="334.4" y="938.54" class="tk" text-anchor="middle">6</text><path d="M70.4 885.3L74.1 889L70.4 892.7L66.7 889Z" fill="url(#gg)" stroke="#8cb850" stroke-width="0.6"/><path d="M91.4 877.9L95.1 881.6L91.4 885.3L87.7 881.6Z" fill="url(#gg)" stroke="#8cb850" stroke-width="0.6"/><path d="M121 871.7L124.7 875.4L121 879.1L117.3 875.4Z" fill="url(#gg)" stroke="#8cb850" stroke-width="0.6"/><path d="M204.4 849.9L208.1 853.6L204.4 857.3L200.7 853.6Z" fill="url(#gg)" stroke="#8cb850" stroke-width="0.6"/><path d="M285.6 839.9L289.3 843.6L285.6 847.3L281.9 843.6Z" fill="url(#gg)" stroke="#8cb850" stroke-width="0.6"/><path d="M70.4 886.12L285.6 840.02" class="tr"/><text x="261.2" y="900.19" class="eq" text-anchor="middle" xml:space="preserve">y = 0.2564x <tspan font-size="7" font-weight="bold" dx="1.2">+</tspan><tspan dx="0.3"> 0.7774</tspan></text><text x="261.2" y="909.19" class="eq" text-anchor="middle">R<tspan dy="-3" font-size="5.5">2</tspan><tspan dy="3"> = 0.9811</tspan></text><text transform="translate(16.7 874) rotate(-90)" class="ti" text-anchor="middle" textLength="41" lengthAdjust="spacingAndGlyphs">C<tspan font-size="5.5" dy="1.5">e</tspan><tspan dy="-1.5">/q</tspan><tspan font-size="5.5" dy="1.5">e</tspan><tspan dy="-1.5"> (g/L)</tspan></text><text x="187.5" y="951.45" class="ti" text-anchor="middle">C<tspan font-size="5.5" dy="1.5">e</tspan><tspan dy="-1.5">(ppm)</tspan></text><text x="189.5" y="972.6" class="lt" text-anchor="middle">k</text></g>
<g id="cl"><path d="M378.5 820.5V925.5H678.5" class="ax"/><path d="M375.5 925.5H378.5M375.5 912.5H378.5M375.5 899.5H378.5M375.5 886.5H378.5M375.5 872.5H378.5M375.5 859.5H378.5M375.5 846.5H378.5M375.5 833.5H378.5M375.5 820.5H378.5M378.5 925.5V928.5M428.5 925.5V928.5M478.5 925.5V928.5M528.5 925.5V928.5M578.5 925.5V928.5M628.5 925.5V928.5M678.5 925.5V928.5" class="tkl"/><text x="371" y="928.24" class="tk" text-anchor="end">0</text><text x="371" y="915.11" class="tk" text-anchor="end">1</text><text x="371" y="901.99" class="tk" text-anchor="end">2</text><text x="371" y="888.86" class="tk" text-anchor="end">3</text><text x="371" y="875.74" class="tk" text-anchor="end">4</text><text x="371" y="862.61" class="tk" text-anchor="end">5</text><text x="371" y="849.49" class="tk" text-anchor="end">6</text><text x="371" y="836.36" class="tk" text-anchor="end">7</text><text x="371" y="823.24" class="tk" text-anchor="end">8</text><text x="379" y="939.24" class="tk" text-anchor="middle">0</text><text x="428.9" y="939.24" class="tk" text-anchor="middle">2</text><text x="478.8" y="939.24" class="tk" text-anchor="middle">4</text><text x="528.7" y="939.24" class="tk" text-anchor="middle">6</text><text x="578.6" y="939.24" class="tk" text-anchor="middle">8</text><text x="628.5" y="939.24" class="tk" text-anchor="middle">10</text><text x="678.4" y="939.24" class="tk" text-anchor="middle">12</text><path d="M398.6 876.3L402.3 880L398.6 883.7L394.9 880Z" fill="url(#gg)" stroke="#8cb850" stroke-width="0.6"/><path d="M434.6 864.9L438.3 868.6L434.6 872.3L430.9 868.6Z" fill="url(#gg)" stroke="#8cb850" stroke-width="0.6"/><path d="M503.4 853.3L507.1 857L503.4 860.7L499.7 857Z" fill="url(#gg)" stroke="#8cb850" stroke-width="0.6"/><path d="M583.4 840.9L587.1 844.6L583.4 848.3L579.7 844.6Z" fill="url(#gg)" stroke="#8cb850" stroke-width="0.6"/><path d="M663.4 834.7L667.1 838.4L663.4 842.1L659.7 838.4Z" fill="url(#gg)" stroke="#8cb850" stroke-width="0.6"/><path d="M398.6 875.32L663.4 834.34" class="tr"/><text x="625.1" y="887.39" class="eq" text-anchor="middle" xml:space="preserve">y = 0.2942x <tspan font-size="7" font-weight="bold" dx="1.2">+</tspan><tspan dx="0.3"> 3.5847</tspan></text><text x="625.1" y="896.79" class="eq" text-anchor="middle">R<tspan dy="-3" font-size="5.5">2</tspan><tspan dy="3"> = 0.9604</tspan></text><text transform="translate(362.8 872.9) rotate(-90)" class="ti" text-anchor="middle" textLength="41" lengthAdjust="spacingAndGlyphs">C<tspan font-size="5.5" dy="1.5">e</tspan><tspan dy="-1.5">/q</tspan><tspan font-size="5.5" dy="1.5">e</tspan><tspan dy="-1.5"> (g/L)</tspan></text><text x="529" y="951.85" class="ti" text-anchor="middle">C<tspan font-size="5.5" dy="1.5">e</tspan><tspan dy="-1.5">(ppm)</tspan></text><text x="526.7" y="970.8" class="lt" text-anchor="middle">l</text></g>
<g id="cm"><path d="M40.5 982.5V1085.5H332.5" class="ax"/><path d="M37.5 1085.5H40.5M37.5 1074.5H40.5M37.5 1062.5H40.5M37.5 1051.5H40.5M37.5 1039.5H40.5M37.5 1028.5H40.5M37.5 1016.5H40.5M37.5 1005.5H40.5M37.5 993.5H40.5M37.5 982.5H40.5M40.5 1085.5V1088.5M98.5 1085.5V1088.5M157.5 1085.5V1088.5M215.5 1085.5V1088.5M274.5 1085.5V1088.5M332.5 1085.5V1088.5" class="tkl"/><text x="32.4" y="1088.44" class="tk" text-anchor="end">0</text><text x="32.4" y="1076.97" class="tk" text-anchor="end">1</text><text x="32.4" y="1065.5" class="tk" text-anchor="end">2</text><text x="32.4" y="1054.04" class="tk" text-anchor="end">3</text><text x="32.4" y="1042.57" class="tk" text-anchor="end">4</text><text x="32.4" y="1031.1" class="tk" text-anchor="end">5</text><text x="32.4" y="1019.64" class="tk" text-anchor="end">6</text><text x="32.4" y="1008.17" class="tk" text-anchor="end">7</text><text x="32.4" y="996.7" class="tk" text-anchor="end">8</text><text x="32.4" y="985.24" class="tk" text-anchor="end">9</text><text x="40.4" y="1099.44" class="tk" text-anchor="middle">0</text><text x="98.8" y="1099.44" class="tk" text-anchor="middle">2</text><text x="157.2" y="1099.44" class="tk" text-anchor="middle">4</text><text x="215.6" y="1099.44" class="tk" text-anchor="middle">6</text><text x="274" y="1099.44" class="tk" text-anchor="middle">8</text><text x="332.4" y="1099.44" class="tk" text-anchor="middle">10</text><path d="M66.6 1031.7L70.3 1035.4L66.6 1039.1L62.9 1035.4Z" fill="url(#gg)" stroke="#8cb850" stroke-width="0.6"/><path d="M116.4 1017.7L120.1 1021.4L116.4 1025.1L112.7 1021.4Z" fill="url(#gg)" stroke="#8cb850" stroke-width="0.6"/><path d="M208 1003.7L211.7 1007.4L208 1011.1L204.3 1007.4Z" fill="url(#gg)" stroke="#8cb850" stroke-width="0.6"/><path d="M308.4 994.9L312.1 998.6L308.4 1002.3L304.7 998.6Z" fill="url(#gg)" stroke="#8cb850" stroke-width="0.6"/><path d="M66.6 1030.83L308.4 995.61" class="tr"/><text x="278.5" y="1048.39" class="eq" text-anchor="middle" xml:space="preserve">y = 0.3709x <tspan font-size="7" font-weight="bold" dx="1.2">+</tspan><tspan dx="0.3"> 4.4437</tspan></text><text x="278.5" y="1057.19" class="eq" text-anchor="middle">R<tspan dy="-3" font-size="5.5">2</tspan><tspan dy="3"> = 0.9524</tspan></text><text transform="translate(23.7 1034.3) rotate(-90)" class="ti" text-anchor="middle" textLength="41" lengthAdjust="spacingAndGlyphs">C<tspan font-size="5.5" dy="1.5">e</tspan><tspan dy="-1.5">/q</tspan><tspan font-size="5.5" dy="1.5">e</tspan><tspan dy="-1.5"> (g/L)</tspan></text><text x="186.5" y="1112.15" class="ti" text-anchor="middle">C<tspan font-size="5.5" dy="1.5">e</tspan><tspan dy="-1.5">(ppm)</tspan></text><text x="186.9" y="1129" class="lt" text-anchor="middle">m</text></g>
<g id="cn"><path d="M380.5 987.5V1082.5H672.5" class="ax"/><path d="M377.5 1082.5H380.5M377.5 1072.5H380.5M377.5 1061.5H380.5M377.5 1051.5H380.5M377.5 1040.5H380.5M377.5 1030.5H380.5M377.5 1019.5H380.5M377.5 1008.5H380.5M377.5 998.5H380.5M377.5 987.5H380.5M380.5 1082.5V1085.5M422.5 1082.5V1085.5M463.5 1082.5V1085.5M505.5 1082.5V1085.5M547.5 1082.5V1085.5M588.5 1082.5V1085.5M630.5 1082.5V1085.5M672.5 1082.5V1085.5" class="tkl"/><text x="372.4" y="1085.84" class="tk" text-anchor="end">0</text><text x="372.4" y="1075.24" class="tk" text-anchor="end">1</text><text x="372.4" y="1064.64" class="tk" text-anchor="end">2</text><text x="372.4" y="1054.04" class="tk" text-anchor="end">3</text><text x="372.4" y="1043.44" class="tk" text-anchor="end">4</text><text x="372.4" y="1032.84" class="tk" text-anchor="end">5</text><text x="372.4" y="1022.24" class="tk" text-anchor="end">6</text><text x="372.4" y="1011.64" class="tk" text-anchor="end">7</text><text x="372.4" y="1001.04" class="tk" text-anchor="end">8</text><text x="372.4" y="990.44" class="tk" text-anchor="end">9</text><text x="380.4" y="1096.84" class="tk" text-anchor="middle">0</text><text x="422.11" y="1096.84" class="tk" text-anchor="middle">2</text><text x="463.83" y="1096.84" class="tk" text-anchor="middle">4</text><text x="505.54" y="1096.84" class="tk" text-anchor="middle">6</text><text x="547.26" y="1096.84" class="tk" text-anchor="middle">8</text><text x="588.97" y="1096.84" class="tk" text-anchor="middle">10</text><text x="630.69" y="1096.84" class="tk" text-anchor="middle">12</text><text x="672.4" y="1096.84" class="tk" text-anchor="middle">14</text><path d="M400 1030.7L403.7 1034.4L400 1038.1L396.3 1034.4Z" fill="url(#gg)" stroke="#8cb850" stroke-width="0.6"/><path d="M487.4 1020.7L491.1 1024.4L487.4 1028.1L483.7 1024.4Z" fill="url(#gg)" stroke="#8cb850" stroke-width="0.6"/><path d="M570 999.7L573.7 1003.4L570 1007.1L566.3 1003.4Z" fill="url(#gg)" stroke="#8cb850" stroke-width="0.6"/><path d="M649.6 989.7L653.3 993.4L649.6 997.1L645.9 993.4Z" fill="url(#gg)" stroke="#8cb850" stroke-width="0.6"/><path d="M400 1034.73L649.6 992.26" class="tr"/><text x="634.3" y="1058.39" class="eq" text-anchor="middle" xml:space="preserve">y = 0.3348x <tspan font-size="7" font-weight="bold" dx="1.2">+</tspan><tspan dx="0.3"> 4.2387</tspan></text><text x="634.3" y="1067.39" class="eq" text-anchor="middle">R<tspan dy="-3" font-size="5.5">2</tspan><tspan dy="3"> = 0.9736</tspan></text><text transform="translate(363.7 1035.7) rotate(-90)" class="ti" text-anchor="middle" textLength="41" lengthAdjust="spacingAndGlyphs">C<tspan font-size="5.5" dy="1.5">e</tspan><tspan dy="-1.5">/q</tspan><tspan font-size="5.5" dy="1.5">e</tspan><tspan dy="-1.5"> (g/L)</tspan></text><text x="526.5" y="1109.05" class="ti" text-anchor="middle">C<tspan font-size="5.5" dy="1.5">e</tspan><tspan dy="-1.5">(ppm)</tspan></text><text x="527.3" y="1124.3" class="lt" text-anchor="middle">n</text></g>
<g id="co"><path d="M230.5 1141.5V1238.5H522.5" class="ax"/><path d="M227.5 1238.5H230.5M227.5 1227.5H230.5M227.5 1216.5H230.5M227.5 1206.5H230.5M227.5 1195.5H230.5M227.5 1184.5H230.5M227.5 1173.5H230.5M227.5 1162.5H230.5M227.5 1152.5H230.5M227.5 1141.5H230.5M230.5 1238.5V1241.5M302.5 1238.5V1241.5M376.5 1238.5V1241.5M448.5 1238.5V1241.5M522.5 1238.5V1241.5" class="tkl"/><text x="222" y="1241.44" class="tk" text-anchor="end">0</text><text x="222" y="1230.64" class="tk" text-anchor="end">1</text><text x="222" y="1219.84" class="tk" text-anchor="end">2</text><text x="222" y="1209.04" class="tk" text-anchor="end">3</text><text x="222" y="1198.24" class="tk" text-anchor="end">4</text><text x="222" y="1187.44" class="tk" text-anchor="end">5</text><text x="222" y="1176.64" class="tk" text-anchor="end">6</text><text x="222" y="1165.84" class="tk" text-anchor="end">7</text><text x="222" y="1155.04" class="tk" text-anchor="end">8</text><text x="222" y="1144.24" class="tk" text-anchor="end">9</text><text x="230" y="1252.44" class="tk" text-anchor="middle">0</text><text x="303" y="1252.44" class="tk" text-anchor="middle">5</text><text x="376" y="1252.44" class="tk" text-anchor="middle">10</text><text x="449" y="1252.44" class="tk" text-anchor="middle">15</text><text x="522" y="1252.44" class="tk" text-anchor="middle">20</text><path d="M269 1172.9L272.7 1176.6L269 1180.3L265.3 1176.6Z" fill="url(#gg)" stroke="#8cb850" stroke-width="0.6"/><path d="M314 1162.7L317.7 1166.4L314 1170.1L310.3 1166.4Z" fill="url(#gg)" stroke="#8cb850" stroke-width="0.6"/><path d="M361.4 1156.3L365.1 1160L361.4 1163.7L357.7 1160Z" fill="url(#gg)" stroke="#8cb850" stroke-width="0.6"/><path d="M413.6 1148.7L417.3 1152.4L413.6 1156.1L409.9 1152.4Z" fill="url(#gg)" stroke="#8cb850" stroke-width="0.6"/><path d="M463 1146.3L466.7 1150L463 1153.7L459.3 1150Z" fill="url(#gg)" stroke="#8cb850" stroke-width="0.6"/><path d="M269 1173.2L463 1146.53" class="tr"/><text x="443.5" y="1208.39" class="eq" text-anchor="middle" xml:space="preserve">y = 0.1858x <tspan font-size="7" font-weight="bold" dx="1.2">+</tspan><tspan dx="0.3"> 5.5596</tspan></text><text x="443.5" y="1217.79" class="eq" text-anchor="middle">R<tspan dy="-3" font-size="5.5">2</tspan><tspan dy="3"> = 0.9602</tspan></text><text transform="translate(213.7 1190) rotate(-90)" class="ti" text-anchor="middle" textLength="41" lengthAdjust="spacingAndGlyphs">C<tspan font-size="5.5" dy="1.5">e</tspan><tspan dy="-1.5">/q</tspan><tspan font-size="5.5" dy="1.5">e</tspan><tspan dy="-1.5"> (g/L)</tspan></text><text x="376.3" y="1264.25" class="ti" text-anchor="middle">C<tspan font-size="5.5" dy="1.5">e</tspan><tspan dy="-1.5">(ppm)</tspan></text><text x="378.7" y="1282.5" class="lt" text-anchor="middle">o</text></g>
</svg>
</body></html>
